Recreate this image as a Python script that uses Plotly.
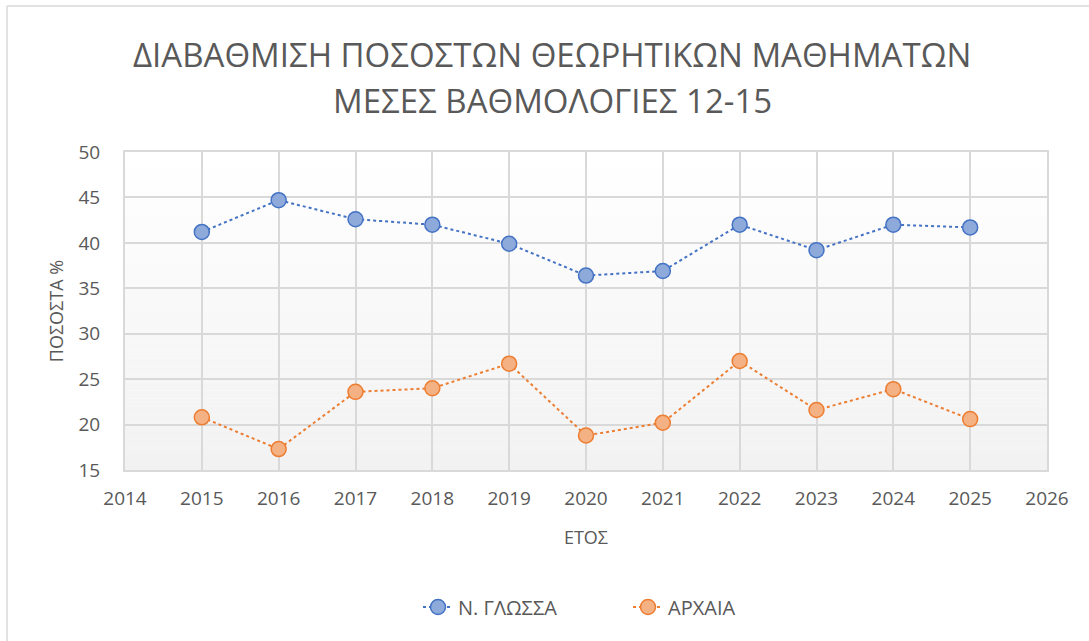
import plotly.graph_objects as go

years = [2015, 2016, 2017, 2018, 2019, 2020, 2021, 2022, 2023, 2024, 2025]
glossa = [41.2, 44.7, 42.6, 42.0, 39.9, 36.4, 36.9, 42.0, 39.2, 42.0, 41.7]
archaia = [20.8, 17.3, 23.6, 24.0, 26.7, 18.8, 20.2, 27.0, 21.6, 23.9, 20.6]
series_names = ["Ν. ΓΛΩΣΣΑ", "ΑΡΧΑΙΑ"]
title_lines = ["ΔΙΑΒΑΘΜΙΣΗ ΠΟΣΟΣΤΩΝ ΘΕΩΡΗΤΙΚΩΝ ΜΑΘΗΜΑΤΩΝ", "ΜΕΣΕΣ ΒΑΘΜΟΛΟΓΙΕΣ 12-15"]
x_title = "ΕΤΟΣ"
y_title = "ΠΟΣΟΣΤΑ %"
x_range = [2014, 2026]
y_range = [15, 50]

W, H = 1089, 641
L, R, T, B = 125, 42, 152, 171
FONT = "Open Sans"
TXT = "#595959"
GRID = "#d9d9d9"

fig = go.Figure()

fig.add_trace(go.Scatter(
    x=years, y=glossa, name=series_names[0], mode="lines+markers",
    line=dict(color="#4472c4", width=2, dash="dot"),
    marker=dict(size=15, color="#8eaadb", line=dict(color="#4472c4", width=1.5)),
))
fig.add_trace(go.Scatter(
    x=years, y=archaia, name=series_names[1], mode="lines+markers",
    line=dict(color="#ed7d31", width=2, dash="dot"),
    marker=dict(size=15, color="#f4b183", line=dict(color="#ed7d31", width=1.5)),
))

# plot-area vertical gradient (white at top -> light gray at bottom), drawn below gridlines
N = 40
for i in range(N):
    t = i / (N - 1)
    v = round(242 + (255 - 242) * t)
    fig.add_shape(type="rect", xref="paper", yref="paper", x0=0, x1=1,
                  y0=i / N, y1=(i + 1) / N, line=dict(width=0),
                  fillcolor=f"rgb({v},{v},{v})", layer="below")

pw = W - L - R
ph = H - T - B
bx = (7 - L) / pw
by = (H - B - 6) / ph
fig.add_shape(type="line", xref="paper", yref="paper", x0=bx, x1=bx, y0=by, y1=-10,
              line=dict(color="#d9d9d9", width=1.5), layer="below")
fig.add_shape(type="line", xref="paper", yref="paper", x0=bx, x1=10, y0=by, y1=by,
              line=dict(color="#d9d9d9", width=1.5), layer="below")

fig.add_annotation(text=title_lines[0], xref="paper", yref="paper",
                   x=(552 - L) / pw, y=(H - B - 55) / ph, showarrow=False,
                   font=dict(family=FONT, size=33, color=TXT), xanchor="center", yanchor="middle")
fig.add_annotation(text=title_lines[1], xref="paper", yref="paper",
                   x=(552 - L) / pw, y=(H - B - 100) / ph, showarrow=False,
                   font=dict(family=FONT, size=33, color=TXT), xanchor="center", yanchor="middle")

fig.update_layout(
    width=W, height=H,
    margin=dict(l=L, r=R, t=T, b=B, autoexpand=False),
    paper_bgcolor="white", plot_bgcolor="rgba(0,0,0,0)",
    font=dict(family=FONT, color=TXT, size=16),
    showlegend=True,
    legend=dict(orientation="h", x=(418 - L) / pw, xanchor="left", y=(H - B - 607) / ph,
                yanchor="middle", font=dict(size=20, color=TXT),
                entrywidth=165, entrywidthmode="pixels"),
    xaxis=dict(range=x_range, dtick=1, tick0=2014, showgrid=True, gridcolor=GRID, gridwidth=2,
               showline=True, linecolor=GRID, linewidth=2, mirror=True, zeroline=False,
               ticks="", tickfont=dict(size=19, color=TXT), ticklabelstandoff=10,
               automargin=False,
               title=dict(text=x_title, font=dict(size=18, color=TXT), standoff=22)),
    yaxis=dict(range=y_range, dtick=5, showgrid=True, gridcolor=GRID, gridwidth=2,
               showline=True, linecolor=GRID, linewidth=2, mirror=True, zeroline=False,
               ticks="", tickfont=dict(size=19, color=TXT), ticklabelstandoff=19,
               automargin=False,
               title=dict(text=y_title, font=dict(size=18, color=TXT), standoff=10)),
)

fig.write_html("out.html", post_script="document.body.style.margin='0';",
               config={"displayModeBar": False})
